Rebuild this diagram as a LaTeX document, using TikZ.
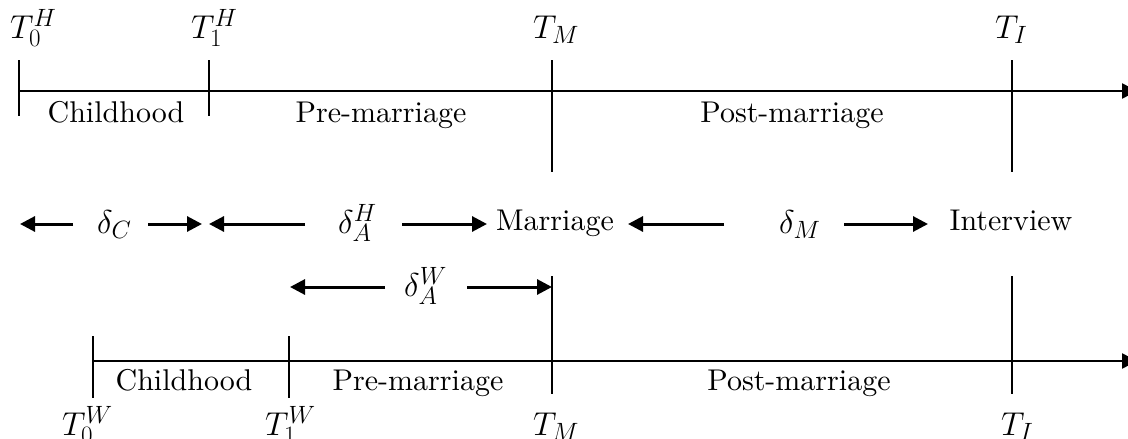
\RequirePackage{fix-cm}
\documentclass[tikz,border=0pt]{standalone}
\usepackage{fontspec}
\setmainfont{lmroman10-regular.otf}
\DeclareMathSizes{33}{33}{25}{18}
\usetikzlibrary{arrows.meta}
\begin{document}
\begin{tikzpicture}[x=1pt,y=-1pt,
  axis/.style={line width=2.6pt,-{Triangle[length=15pt,width=15pt]}},
  tickmark/.style={line width=2pt},
  span/.style={line width=3pt,-{Triangle[length=15pt,width=15pt]}},
  lbl/.style={font=\fontsize{33}{40}\selectfont,inner sep=0pt,anchor=base west},
  txt/.style={font=\fontsize{30}{36}\selectfont,inner sep=0pt,anchor=base},
]
\useasboundingbox (0,0) rectangle (1128,439);
% ---------- husband timeline ----------
\coordinate (hA) at (19,91);
\coordinate (hZ) at (1137,91);
\draw[axis] (hA) -- (hZ);
\coordinate (h0t) at (19,60);   \coordinate (h0b) at (19,116);
\coordinate (h1t) at (209,60);  \coordinate (h1b) at (209,116);
\coordinate (hMt) at (552,60);  \coordinate (hMb) at (552,172);
\coordinate (hIt) at (1012,60); \coordinate (hIb) at (1012,172);
\draw[tickmark] (h0t) -- (h0b);
\draw[tickmark] (h1t) -- (h1b);
\draw[tickmark] (hMt) -- (hMb);
\draw[tickmark] (hIt) -- (hIb);
\node[lbl] (lT0H) at (10,38) {$T_0^H$};
\node[lbl] (lT1H) at (191,38) {$T_1^H$};
\node[lbl] (lTMH) at (533,38) {$T_M$};
\node[lbl] (lTIH) at (995,38) {$T_I$};
\node[txt] (chH) at (116,122) {Childhood};
\node[txt] (preH) at (381,122) {Pre-marriage};
\node[txt] (postH) at (792,122) {Post-marriage};
% ---------- middle row ----------
\node[lbl] (dC) at (97,233) {$\delta_C$};
\node[lbl] (dAH) at (338,233) {$\delta_A^H$};
\node[txt] (marr) at (555,230) {Marriage};
\node[lbl] (dM) at (779,233) {$\delta_M$};
\node[txt] (intv) at (1011,230) {Interview};
\coordinate (a1s) at (73,224);  \coordinate (a1e) at (20,224);
\coordinate (a2s) at (148,224); \coordinate (a2e) at (202,224);
\coordinate (a3s) at (305,224); \coordinate (a3e) at (209,224);
\coordinate (a4s) at (402,224); \coordinate (a4e) at (487,224);
\coordinate (a5s) at (724,224); \coordinate (a5e) at (628,224);
\coordinate (a6s) at (844,224); \coordinate (a6e) at (928,224);
\draw[span] (a1s) -- (a1e);
\draw[span] (a2s) -- (a2e);
\draw[span] (a3s) -- (a3e);
\draw[span] (a4s) -- (a4e);
\draw[span] (a5s) -- (a5e);
\draw[span] (a6s) -- (a6e);
% ---------- wife age at marriage ----------
\node[lbl] (dAW) at (404,296) {$\delta_A^W$};
\coordinate (b1s) at (385,287); \coordinate (b1e) at (290,287);
\coordinate (b2s) at (467,287); \coordinate (b2e) at (552,287);
\draw[span] (b1s) -- (b1e);
\draw[span] (b2s) -- (b2e);
% ---------- wife timeline ----------
\coordinate (wA) at (93,361);
\coordinate (wZ) at (1137,361);
\draw[axis] (wA) -- (wZ);
\coordinate (w0t) at (93,336);   \coordinate (w0b) at (93,398);
\coordinate (w1t) at (289,336);  \coordinate (w1b) at (289,398);
\coordinate (wMt) at (552,276);  \coordinate (wMb) at (552,394);
\coordinate (wIt) at (1012,276); \coordinate (wIb) at (1012,394);
\draw[tickmark] (w0t) -- (w0b);
\draw[tickmark] (w1t) -- (w1b);
\draw[tickmark] (wMt) -- (wMb);
\draw[tickmark] (wIt) -- (wIb);
\node[txt] (chW) at (184,390) {Childhood};
\node[txt] (preW) at (418,390) {Pre-marriage};
\node[txt] (postW) at (799,390) {Post-marriage};
\node[lbl] (lT0W) at (62,435) {$T_0^W$};
\node[lbl] (lT1W) at (265,435) {$T_1^W$};
\node[lbl] (lTMW) at (533,435) {$T_M$};
\node[lbl] (lTIW) at (1001,435) {$T_I$};
\end{tikzpicture}
\end{document}
